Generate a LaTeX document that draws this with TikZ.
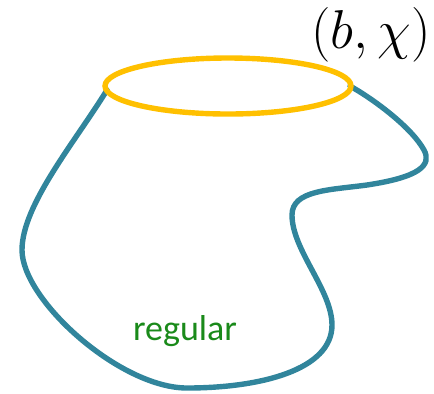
\documentclass[tikz,border=0pt]{standalone}
\usepackage{fontspec}
\newfontfamily\calibri{Carlito}
\definecolor{rim}{HTML}{FFC000}
\definecolor{skin}{HTML}{31859C}
\definecolor{leaf}{HTML}{1A8A1A}

\begin{document}
\begin{tikzpicture}[x=0.5pt, y=-0.5pt, line width=2.7pt]
  \useasboundingbox (0,0) rectangle (434,393);

  % The surface: one sheet hanging from the rim, with a dent on the right.
  \coordinate (rimW) at (107,90);
  \coordinate (rimE) at (350,86);
  \draw[skin, line cap=round]
    (rimW) .. controls (75,142) and (22,205) .. (22,250)
           .. controls (22,300) and (120,388) .. (187,388)
           .. controls (260,388) and (332,370) .. (332,325)
           .. controls (332,290) and (292,250) .. (292,215)
           .. controls (292,190) and (330,190) .. (367,185)
           .. controls (420,177) and (432,165) .. (424,150)
           .. controls (412,128) and (375,100) .. (rimE);

  % Boundary circle drawn on top of the sheet.
  \draw[rim] (228,86) ellipse [x radius=61.5pt, y radius=14pt];

  \node[scale=1.1] (bdry) at (371,35) {\Huge $(b,\chi)$};
  \node[text=leaf, font=\calibri\fontsize{18}{20}\selectfont] (reg) at (185,331) {regular};
\end{tikzpicture}
\end{document}
